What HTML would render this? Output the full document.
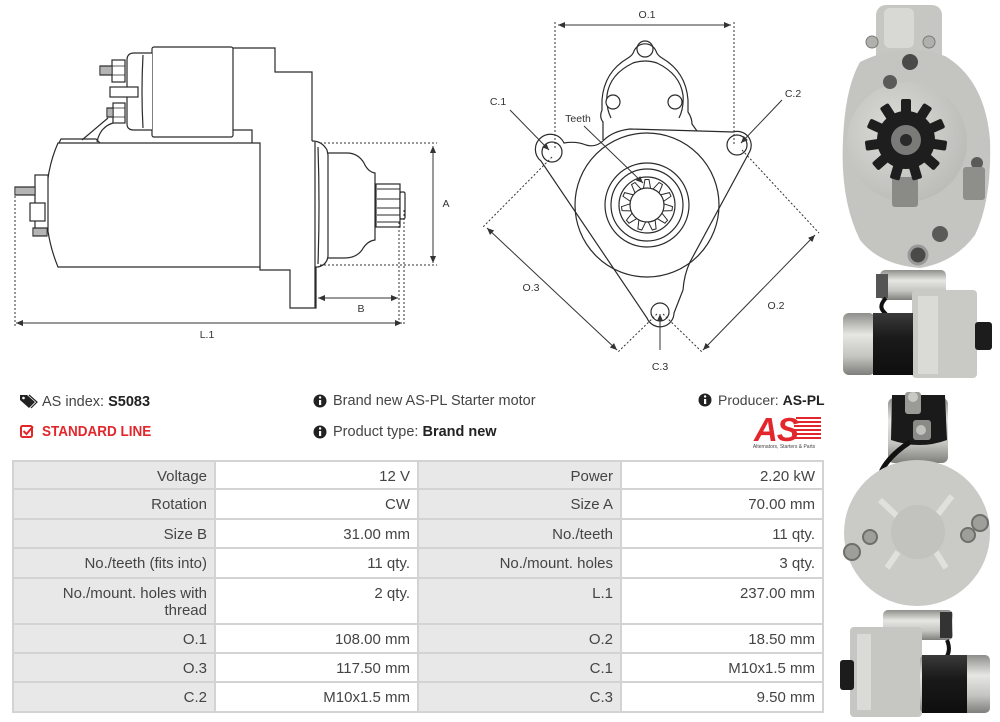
<!DOCTYPE html>
<html><head><meta charset="utf-8">
<style>
html,body{margin:0;padding:0;background:#fff;}
body{width:1000px;height:722px;position:relative;overflow:hidden;font-family:"Liberation Sans",Arial,sans-serif;}
svg.main{position:absolute;left:0;top:0;}
.info{position:absolute;font-size:14.5px;color:#444;white-space:nowrap;line-height:18px;}
.info b{color:#222;}
table{position:absolute;left:12px;top:460px;width:810px;border-collapse:collapse;table-layout:fixed;font-size:15px;color:#444;}
td{border:2px solid #d3d3d3;text-align:right;vertical-align:top;padding:6px 7px 0 4px;line-height:17px;}
td.l{background:#e8e8e8;}
td.v{background:#fff;}
</style></head>
<body>
<svg class="main" width="1000" height="722" viewBox="0 0 1000 722">
<defs>
<marker id="ah" viewBox="0 0 8 8" refX="8" refY="4" markerWidth="7" markerHeight="7" markerUnits="userSpaceOnUse" orient="auto-start-reverse"><path d="M0,0.5 L8,4 L0,7.5 z" fill="#333"/></marker>
<linearGradient id="cylv" x1="0" y1="0" x2="0" y2="1"><stop offset="0" stop-color="#8e8e8a"/><stop offset="0.35" stop-color="#e6e6e2"/><stop offset="0.7" stop-color="#c4c4c0"/><stop offset="1" stop-color="#7e7e7a"/></linearGradient>
<linearGradient id="blk" x1="0" y1="0" x2="0" y2="1"><stop offset="0" stop-color="#3a3a3a"/><stop offset="0.4" stop-color="#1a1a1a"/><stop offset="1" stop-color="#0e0e0e"/></linearGradient>
<radialGradient id="face" cx="0.4" cy="0.4" r="0.7"><stop offset="0" stop-color="#dcdcd8"/><stop offset="1" stop-color="#b8b8b4"/></radialGradient>
</defs>

<!-- ===== LEFT SIDE DRAWING ===== -->
<g fill="none" stroke="#2a2a2a" stroke-width="1.2">
  <path d="M233,48 L275,48 L275,72 L312,72 L312,141" />
  <path d="M233,130 L252,130 L252,143" />
  <path d="M260,267 L260,270 L290,270 L290,308 L316,308 L316,267" />
  <path d="M312,141 Q322,141 327,150 L328,155 L328,256 Q327,265 318,267 L315,267" />
  <path d="M315,142 L315,308" />
  <path d="M318,147 Q320,205 318,264" />
  <path d="M328,153 L347,153 Q358,153 364,163 Q368,172 375,173 L375,240 Q367,241 362,250 Q356,258 345,258 L328,258" />
  <rect x="376" y="184" width="24" height="43" fill="#fff"/>
  <path d="M377,189 L400,189 M377,199 L400,199 M377,208 L400,208 M377,215 L400,215 M377,222 L400,222" stroke-width="0.9"/>
  <rect x="400" y="192" width="5" height="27" rx="1.5" fill="#fff"/>
  <path d="M58,143 L260,143 L260,267 L58,267 Q46,238 46,205 Q46,170 58,143 Z" fill="#fff"/>
  <path d="M59,143 L61,139 L96,139 L100,143" />
  <rect x="152" y="47" width="81" height="90" rx="2" fill="#fff"/>
  <path d="M152,53 L134,53 Q127,53 127,60 L127,124 Q127,130 134,130 L152,130" fill="#fff"/>
  <path d="M143,55 Q141,92 143,128" />
  <rect x="112" y="60" width="13" height="22" fill="#fff"/>
  <path d="M112,66 L125,66 M112,75 L125,75" stroke-width="0.8"/>
  <rect x="100" y="66" width="12" height="9" fill="#fff"/>
  <path d="M102,66 V75 M104,66 V75 M106,66 V75 M108,66 V75 M110,66 V75" stroke-width="0.7"/>
  <rect x="110" y="87" width="28" height="10" fill="#fff"/>
  <rect x="113" y="103" width="12" height="20" fill="#fff"/>
  <path d="M113,108 L125,108 M113,117 L125,117" stroke-width="0.8"/>
  <rect x="107" y="108" width="6" height="9" fill="#fff"/>
  <path d="M109,108 V117 M111,108 V117" stroke-width="0.7"/>
  <path d="M108,118 L82,140" />
  <path d="M113,123 Q100,127 97,142" />
  <rect x="35" y="175" width="13" height="55" fill="#fff"/>
  <rect x="15" y="187" width="20" height="8" fill="#fff"/>
  <path d="M17,187 V195 M19,187 V195 M21,187 V195 M23,187 V195 M25,187 V195 M27,187 V195 M29,187 V195 M31,187 V195 M33,187 V195" stroke-width="0.7"/>
  <rect x="30" y="203" width="15" height="18" fill="#fff"/>
  <rect x="33" y="228" width="14" height="8" fill="#fff"/>
  <path d="M35,228 V236 M37,228 V236 M39,228 V236 M41,228 V236 M43,228 V236 M45,228 V236" stroke-width="0.7"/>
</g>
<g fill="none" stroke="#333" stroke-width="1">
  <path d="M320,143 L437,143 M320,265 L437,265 M399,222 L399,326 M404,210 L404,326 M15,192 L15,326" stroke-dasharray="2,2"/>
  <path d="M433,146 L433,263" marker-start="url(#ah)" marker-end="url(#ah)"/>
  <path d="M318,298 L398,298" marker-start="url(#ah)" marker-end="url(#ah)"/>
  <path d="M16,323 L402,323" marker-start="url(#ah)" marker-end="url(#ah)"/>
</g>
<g font-family="Liberation Sans, Arial, sans-serif" font-size="10.5" fill="#333" text-anchor="middle">
  <text x="446" y="207">A</text>
  <text x="361" y="312">B</text>
  <text x="207" y="338">L.1</text>
</g>

<!-- ===== RIGHT FRONT DRAWING ===== -->
<g fill="none" stroke="#2a2a2a" stroke-width="1.2">
  <path d="M603,140 L603,122 Q599,117 602,110 L602,100 Q604,72 628,58 Q633,55 634,51 A12,12 0 0 1 656,51 Q657,55 662,58 Q686,72 688,100 L688,112 Q692,118 692,124 L697,131" fill="#fff"/>
  <circle cx="645" cy="49" r="8"/>
  <path d="M611,118 Q606,108 607,95 Q610,74 633,63 Q639,61 645,61 Q651,61 657,63 Q680,74 683,95 Q684,108 679,118"/>
  <circle cx="613" cy="102" r="7" fill="#fff"/>
  <circle cx="675" cy="102" r="7" fill="#fff"/>
  <path d="M564,143 Q576,141 586,145 Q596,148 604,140 Q613,131 630,129 L700,131 L733,132 A14,14 0 0 1 750,151 L690,262 Q684,275 683,290 L674,313 A14,14 0 0 1 647,318 L541,161 A15,15 0 1 1 564,143 Z" fill="#fff"/>
  <circle cx="552" cy="152" r="10"/>
  <circle cx="737" cy="145" r="10"/>
  <circle cx="660" cy="312" r="9"/>
  <circle cx="647" cy="205" r="72"/>
  <circle cx="647" cy="205" r="42"/>
  <circle cx="647" cy="205" r="36"/>
  <circle cx="647" cy="205" r="28"/>
  <circle cx="647" cy="205" r="17"/>
  <g stroke-width="1">
    <path id="tth" d="M643.5,188 L645,179.5 L649,179.5 L650.5,188"/>
    <use href="#tth" transform="rotate(32.73 647 205)"/>
    <use href="#tth" transform="rotate(65.45 647 205)"/>
    <use href="#tth" transform="rotate(98.18 647 205)"/>
    <use href="#tth" transform="rotate(130.9 647 205)"/>
    <use href="#tth" transform="rotate(163.6 647 205)"/>
    <use href="#tth" transform="rotate(196.4 647 205)"/>
    <use href="#tth" transform="rotate(229.1 647 205)"/>
    <use href="#tth" transform="rotate(261.8 647 205)"/>
    <use href="#tth" transform="rotate(294.5 647 205)"/>
    <use href="#tth" transform="rotate(327.3 647 205)"/>
  </g>
</g>
<g fill="none" stroke="#333" stroke-width="1">
  <path d="M555,22 L555,150 M734,22 L734,146" stroke-dasharray="2,2"/>
  <path d="M558,25 L731,25" marker-start="url(#ah)" marker-end="url(#ah)"/>
  <path d="M552,157 L483,227 M657,314 L617,353 M742,150 L819,233 M663,314 L702,352" stroke-dasharray="2,2"/>
  <path d="M487,228 L617,350" marker-start="url(#ah)" marker-end="url(#ah)"/>
  <path d="M815,235 L703,350" marker-start="url(#ah)" marker-end="url(#ah)"/>
  <path d="M510,110 L549,150" marker-end="url(#ah)"/>
  <path d="M782,100 L741,143" marker-end="url(#ah)"/>
  <path d="M584,126 L643,183" marker-end="url(#ah)"/>
  <path d="M660,350 L660,314" marker-end="url(#ah)"/>
</g>
<g font-family="Liberation Sans, Arial, sans-serif" font-size="10.5" fill="#333" text-anchor="middle">
  <text x="647" y="18">O.1</text>
  <text x="498" y="105">C.1</text>
  <text x="578" y="122">Teeth</text>
  <text x="793" y="97">C.2</text>
  <text x="531" y="291">O.3</text>
  <text x="776" y="309">O.2</text>
  <text x="660" y="370">C.3</text>
</g>

<!-- ===== PHOTOS ===== -->
<g>
  <rect x="876" y="5" width="66" height="60" rx="10" fill="#c6c6c2"/>
  <rect x="884" y="8" width="30" height="40" rx="6" fill="#d8d8d4"/>
  <circle cx="872" cy="42" r="6" fill="#b0b0ac" stroke="#7a7a76"/>
  <circle cx="929" cy="42" r="6" fill="#b0b0ac" stroke="#7a7a76"/>
  <path d="M860,62 Q900,42 945,56 Q985,80 990,140 Q992,200 975,235 Q955,262 920,268 Q880,265 860,240 Q840,200 843,140 Q845,88 860,62 Z" fill="#c4c4c0"/>
  <circle cx="907" cy="142" r="60" fill="url(#face)"/>
  <circle cx="910" cy="62" r="8" fill="#4a4a48"/>
  <circle cx="890" cy="82" r="7" fill="#5a5a58"/>
  <circle cx="977" cy="163" r="6" fill="#5a5a58"/>
  <circle cx="940" cy="234" r="8" fill="#5a5a58"/>
  <circle cx="918" cy="255" r="9" fill="#4a4a48" stroke="#999" stroke-width="3"/>
  <rect x="892" y="177" width="26" height="30" rx="3" fill="#8a8a86"/>
  <rect x="963" y="167" width="22" height="33" rx="3" fill="#8e8e8a"/>
  <g transform="translate(906,140)" fill="#1e1e1e">
    <circle r="29"/>
    <rect x="-5" y="-41" width="10" height="15" rx="2"/>
    <rect x="-5" y="-41" width="10" height="15" rx="2" transform="rotate(32.73)"/>
    <rect x="-5" y="-41" width="10" height="15" rx="2" transform="rotate(65.45)"/>
    <rect x="-5" y="-41" width="10" height="15" rx="2" transform="rotate(98.18)"/>
    <rect x="-5" y="-41" width="10" height="15" rx="2" transform="rotate(130.9)"/>
    <rect x="-5" y="-41" width="10" height="15" rx="2" transform="rotate(163.6)"/>
    <rect x="-5" y="-41" width="10" height="15" rx="2" transform="rotate(196.4)"/>
    <rect x="-5" y="-41" width="10" height="15" rx="2" transform="rotate(229.1)"/>
    <rect x="-5" y="-41" width="10" height="15" rx="2" transform="rotate(261.8)"/>
    <rect x="-5" y="-41" width="10" height="15" rx="2" transform="rotate(294.5)"/>
    <rect x="-5" y="-41" width="10" height="15" rx="2" transform="rotate(327.3)"/>
    <circle r="15" fill="#7a7a78"/>
    <circle r="6" fill="#2a2a2a"/>
  </g>
</g>
<g>
  <rect x="880" y="270" width="66" height="30" rx="5" fill="url(#cylv)"/>
  <rect x="876" y="274" width="12" height="24" fill="#555"/>
  <path d="M886,298 Q878,306 884,312 Q890,318 888,322" stroke="#111" stroke-width="4" fill="none"/>
  <rect x="912" y="290" width="65" height="88" rx="4" fill="#c9c9c5"/>
  <rect x="918" y="296" width="20" height="78" fill="#dadad6"/>
  <rect x="843" y="313" width="32" height="62" rx="6" fill="url(#cylv)"/>
  <rect x="873" y="313" width="40" height="62" fill="url(#blk)"/>
  <rect x="975" y="322" width="17" height="28" rx="3" fill="#1c1c1c"/>
</g>
<g>
  <rect x="888" y="398" width="60" height="65" rx="6" fill="url(#cylv)"/>
  <path d="M892,395 L945,395 L947,440 Q920,450 891,440 Z" fill="#1a1a1a"/>
  <rect x="905" y="392" width="16" height="22" rx="3" fill="#9a9a96"/>
  <circle cx="913" cy="397" r="5" fill="#c8c8c4"/>
  <rect x="913" y="420" width="18" height="20" rx="3" fill="#8a8a86"/>
  <circle cx="921" cy="430" r="5" fill="#c0c0bc"/>
  <path d="M910,442 Q890,455 882,470 Q878,482 895,486" stroke="#111" stroke-width="5" fill="none"/>
  <circle cx="917" cy="533" r="73" fill="#cacac6"/>
  <path d="M880,500 L897,516 M952,496 L938,514 M887,568 L898,552 M946,568 L936,552" stroke="#e0e0dc" stroke-width="6"/>
  <circle cx="918" cy="532" r="27" fill="#c2c2be"/>
  <circle cx="852" cy="552" r="8" fill="#9e9e9a" stroke="#6e6e6a" stroke-width="2"/>
  <circle cx="870" cy="537" r="7" fill="#9e9e9a" stroke="#6e6e6a" stroke-width="2"/>
  <circle cx="968" cy="535" r="7" fill="#9e9e9a" stroke="#6e6e6a" stroke-width="2"/>
  <circle cx="980" cy="523" r="8" fill="#9e9e9a" stroke="#6e6e6a" stroke-width="2"/>
</g>
<g>
  <rect x="883" y="610" width="70" height="30" rx="5" fill="url(#cylv)"/>
  <rect x="940" y="612" width="12" height="26" fill="#333"/>
  <path d="M947,640 Q952,652 944,660 Q936,666 940,674" stroke="#111" stroke-width="4" fill="none"/>
  <rect x="850" y="627" width="72" height="90" rx="4" fill="#c6c6c2"/>
  <rect x="857" y="634" width="14" height="76" fill="#dadad6"/>
  <rect x="920" y="655" width="70" height="58" rx="5" fill="url(#cylv)"/>
  <rect x="922" y="655" width="45" height="58" fill="url(#blk)"/>
  <rect x="840" y="660" width="14" height="30" rx="3" fill="#1c1c1c"/>
</g>

<!-- ===== INFO ICONS ===== -->
<path d="M20,395 L27,395 L35,402 L29,408 L20,400 Z" fill="#222"/>
<circle cx="23.5" cy="398" r="1.3" fill="#fff"/>
<path d="M29,395 L37,402 L31,408" fill="none" stroke="#222" stroke-width="1.2"/>
<rect x="21" y="426" width="11" height="11" rx="1.5" fill="none" stroke="#e3262b" stroke-width="2"/>
<path d="M23.5,431 L26.5,434 L33,426.5" fill="none" stroke="#e3262b" stroke-width="2"/>
<g>
  <circle cx="320" cy="401" r="6.5" fill="#222"/><rect x="319" y="400" width="2.2" height="5" fill="#fff"/><circle cx="320.1" cy="397.5" r="1.2" fill="#fff"/>
  <circle cx="320" cy="432" r="6.5" fill="#222"/><rect x="319" y="431" width="2.2" height="5" fill="#fff"/><circle cx="320.1" cy="428.5" r="1.2" fill="#fff"/>
  <circle cx="705" cy="400" r="6.5" fill="#222"/><rect x="704" y="399" width="2.2" height="5" fill="#fff"/><circle cx="705.1" cy="396.5" r="1.2" fill="#fff"/>
</g>
<g>
  <text x="754" y="441" font-family="Liberation Sans, Arial, sans-serif" font-size="33" font-weight="bold" font-style="italic" fill="#e3262b" letter-spacing="-1">AS</text>
  <path d="M796,418 L821,418 M795,422 L821,422 M794,426 L821,426 M793,430 L821,430 M792,434 L821,434 M791,438 L821,438" stroke="#e3262b" stroke-width="2"/>
  <text x="784" y="448" font-family="Liberation Sans, Arial, sans-serif" font-size="5" fill="#444" text-anchor="middle">Alternators, Starters &amp; Parts</text>
</g>
</svg>

<div class="info" style="left:42px;top:393px;">AS index: <b>S5083</b></div>
<div class="info" style="left:42px;top:423px;font-size:15px;color:#e3262b;font-weight:bold;transform:scaleX(0.9);transform-origin:left center;">STANDARD LINE</div>
<div class="info" style="left:333px;top:392px;">Brand new AS-PL Starter motor</div>
<div class="info" style="left:333px;top:423px;">Product type: <b>Brand new</b></div>
<div class="info" style="left:718px;top:391px;font-size:14px;">Producer: <b>AS-PL</b></div>

<table>
<colgroup><col style="width:202px"><col style="width:203px"><col style="width:203px"><col style="width:202px"></colgroup>
<tr style="height:28px"><td class="l">Voltage</td><td class="v">12 V</td><td class="l">Power</td><td class="v">2.20 kW</td></tr>
<tr style="height:30px"><td class="l">Rotation</td><td class="v">CW</td><td class="l">Size A</td><td class="v">70.00 mm</td></tr>
<tr style="height:29px"><td class="l">Size B</td><td class="v">31.00 mm</td><td class="l">No./teeth</td><td class="v">11 qty.</td></tr>
<tr style="height:30px"><td class="l">No./teeth (fits into)</td><td class="v">11 qty.</td><td class="l">No./mount. holes</td><td class="v">3 qty.</td></tr>
<tr style="height:46px"><td class="l">No./mount. holes with<br>thread</td><td class="v">2 qty.</td><td class="l">L.1</td><td class="v">237.00 mm</td></tr>
<tr style="height:29px"><td class="l">O.1</td><td class="v">108.00 mm</td><td class="l">O.2</td><td class="v">18.50 mm</td></tr>
<tr style="height:29px"><td class="l">O.3</td><td class="v">117.50 mm</td><td class="l">C.1</td><td class="v">M10x1.5 mm</td></tr>
<tr style="height:30px"><td class="l">C.2</td><td class="v">M10x1.5 mm</td><td class="l">C.3</td><td class="v">9.50 mm</td></tr>
</table>
</body></html>
